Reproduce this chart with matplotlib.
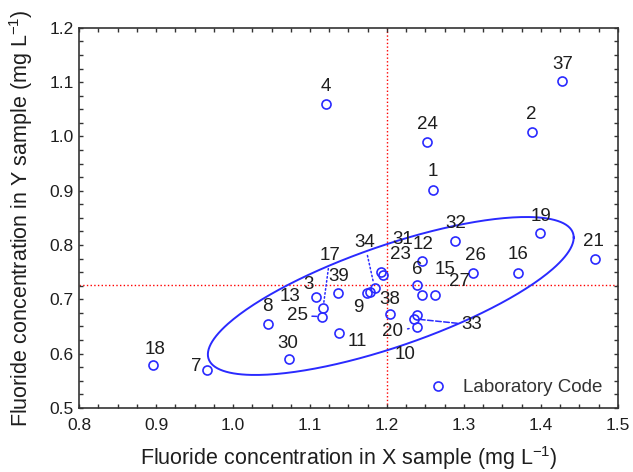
import numpy as np
import matplotlib.pyplot as plt
from matplotlib.ticker import MultipleLocator

plt.rcParams['font.family'] = ['Liberation Sans', 'DejaVu Sans']

# laboratory results (X sample, Y sample)
codes = ['1', '2', '3', '4', '6', '7', '8', '9', '10', '11', '12', '13', '15', '16',
         '17', '18', '19', '20', '21', '23', '24', '25', '26', '27', '30', '31', '32',
         '33', '34', '37', '38', '39']
x_vals = [1.260, 1.388, 1.108, 1.121, 1.239, 0.966, 1.045, 1.174, 1.239, 1.138, 1.245,
          1.178, 1.245, 1.370, 1.117, 0.896, 1.399, 1.239, 1.471, 1.195, 1.252, 1.116,
          1.312, 1.262, 1.073, 1.192, 1.288, 1.235, 1.184, 1.428, 1.204, 1.136]
y_vals = [0.902, 1.009, 0.705, 1.060, 0.727, 0.570, 0.655, 0.712, 0.671, 0.638, 0.771,
          0.714, 0.708, 0.749, 0.684, 0.578, 0.822, 0.649, 0.775, 0.745, 0.990, 0.668,
          0.749, 0.708, 0.589, 0.751, 0.808, 0.664, 0.721, 1.102, 0.673, 0.712]

# label placement (pixels from the point) and leader line style
label_dx = [0, 0, -8, 0, 0, -11, 0, -9, -12, 18, 1, -80, 23, 0, 7, 2, 1, -24, -2, 17, 0,
            -25, 2, 25, -1, 22, 1, 58, -10, 0, 0, 1]
label_dy = [18, 17, 12, 17, 15, 3, 17, -15, -40, -9, 16, -5, 25, 18, 52, 16, 17, -5, 17,
            20, 17, 1, 17, 13, 16, 32, 17, -6, 45, 17, 14, 16]
leaders = {'17': ':', '20': ':', '25': '--', '33': '--', '34': ':'}

# medians and confidence ellipse
x_median = 1.2
y_median = 0.726
ell_cx, ell_cy = 1.205, 0.706
ell_sx, ell_sy, ell_rho = 0.2377, 0.1455, 0.74

blue = '#2a2aff'
txt = '#1e1e1e'

fig, ax = plt.subplots(figsize=(6.33, 4.72), dpi=100)
fig.subplots_adjust(left=0.125, right=0.976, top=0.941, bottom=0.136)

ax.axvline(x_median, color='red', linestyle=':', linewidth=1.0, zorder=1)
ax.axhline(y_median, color='red', linestyle=':', linewidth=1.0, zorder=1)

t = np.linspace(0, 2 * np.pi, 300)
ex = ell_cx + ell_sx * np.cos(t)
ey = ell_cy + ell_sy * (ell_rho * np.cos(t) + np.sqrt(1 - ell_rho ** 2) * np.sin(t))
ax.plot(ex, ey, color=blue, linewidth=1.4, zorder=2)

ax.plot(x_vals, y_vals, 'o', mfc='none', mec=blue, ms=6.5, mew=1.2,
        label='Laboratory Code', zorder=3)

for c, x, y, dx, dy in zip(codes, x_vals, y_vals, label_dx, label_dy):
    arrow = None
    if c in leaders:
        arrow = dict(arrowstyle='-', linestyle=leaders[c], color=blue, lw=1.1,
                     shrinkA=1, shrinkB=4)
    ax.annotate(c, (x, y), xytext=(dx, dy), textcoords='offset pixels',
                ha='center', va='center', fontsize=13.5, color=txt,
                arrowprops=arrow, zorder=4)

ax.set_xlim(0.8, 1.5)
ax.set_ylim(0.5, 1.2)
ax.xaxis.set_major_locator(MultipleLocator(0.1))
ax.yaxis.set_major_locator(MultipleLocator(0.1))
ax.xaxis.set_minor_locator(MultipleLocator(0.025))
ax.yaxis.set_minor_locator(MultipleLocator(0.025))
ax.xaxis.set_major_formatter(lambda v, p: f'{v:.1f}')
ax.yaxis.set_major_formatter(lambda v, p: f'{v:.1f}')
ax.tick_params(which='both', direction='in', top=True, right=True, length=3,
               width=1, color='#333333', labelsize=12.5, labelcolor=txt)
ax.tick_params(axis='x', pad=7)
ax.tick_params(axis='y', pad=4)
for s in ax.spines.values():
    s.set_color('#333333')
    s.set_linewidth(1.2)

ax.set_xlabel('Fluoride concentration in X sample (mg L$^{\\mathregular{-1}}$)',
              fontsize=15.5, color=txt, labelpad=8)
ax.set_ylabel('Fluoride concentration in Y sample (mg L$^{\\mathregular{-1}}$)',
              fontsize=15.5, color=txt, labelpad=10)

ax.legend(loc='center right', bbox_to_anchor=(0.985, 0.053), frameon=False,
          fontsize=13.5, handletextpad=0.3, borderaxespad=0, labelcolor='#333333')

plt.savefig('out.png', dpi=100)
